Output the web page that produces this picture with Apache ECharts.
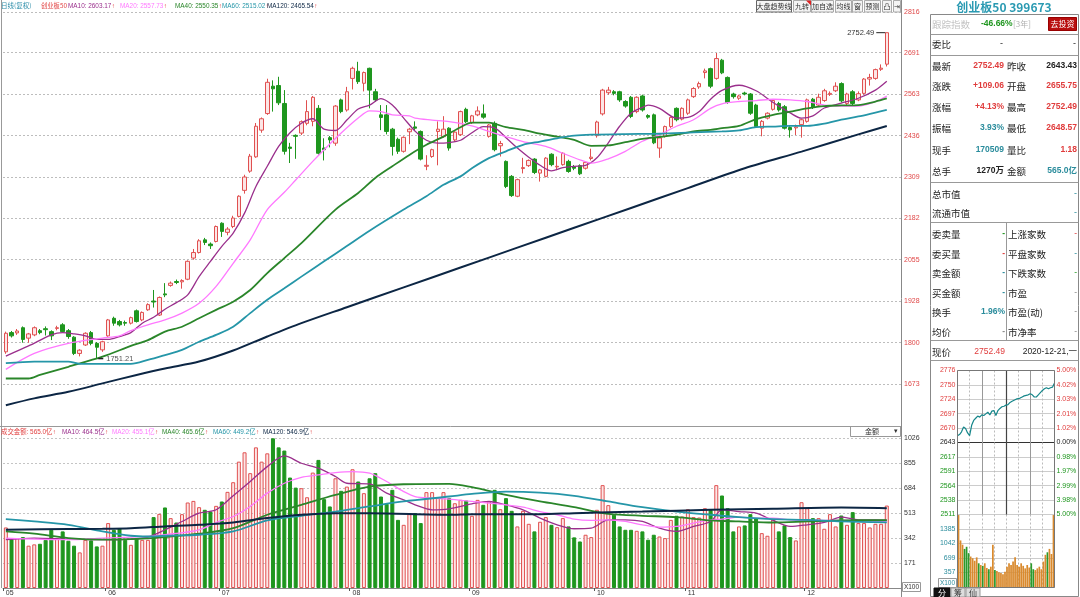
<!DOCTYPE html>
<html><head><meta charset="utf-8">
<script src="https://cdn.jsdelivr.net/npm/echarts@6/dist/echarts.min.js"></script>
<style>html,body{margin:0;padding:0;background:#fff;}#c{width:1080px;height:597px;}</style>
</head><body><div id="c"></div>
<script>
// ---------------- DATA ----------------
const tradingDays = [
  ['05',[6,7,8,11,12,13,14,15,18,19,20,21,22,25,26,27,28,29]],
  ['06',[1,2,3,4,5,8,9,10,11,12,15,16,17,18,19,22,23,24,29,30]],
  ['07',[1,2,3,6,7,8,9,10,13,14,15,16,17,20,21,22,23,24,27,28,29,30,31]],
  ['08',[3,4,5,6,7,10,11,12,13,14,17,18,19,20,21,24,25,26,27,28,31]],
  ['09',[1,2,3,4,7,8,9,10,11,14,15,16,17,18,21,22,23,24,25,28,29,30]],
  ['10',[9,12,13,14,15,16,19,20,21,22,23,26,27,28,29,30]],
  ['11',[2,3,4,5,6,9,10,11,12,13,16,17,18,19,20,23,24,25,26,27,30]],
  ['12',[1,2,3,4,7,8,9,10,11,14,15,16,17,18,21]]
];
const openP = [1772,1831,1830,1846,1814,1824,1837,1843,1834,1844, 1855,1837,1817,1767,1793,1831,1798,1778,1821,1875,
 1865,1862,1860,1898,1870,1901,1928,1885,1950,1976, 1988,1987,1995,2060,2077,2116,2103,2111,2167,2139,
 2157,2188,2268,2327,2371,2453,2504,2588,2590,2535, 2401,2437,2444,2474,2480,2520,2398,2430,2413,2546,
 2515,2612,2634,2597,2643,2571,2500,2500,2456,2425, 2388,2448,2463,2449,2342,2372,2449,2433,2459,2423,
 2439,2517,2476,2500,2503,2434,2474,2405,2357,2311, 2250,2335,2344,2364,2321,2311,2379,2340,2347,2357,
 2340,2344,2336,2366,2436,2503,2568,2571,2571,2541, 2554,2510,2558,2498,2500,2398,2434,2464,2520,2487,
 2505,2556,2586,2630,2642,2612,2668,2615,2564,2551, 2567,2564,2530,2459,2490,2517,2535,2525,2461,2460,
 2470,2480,2548,2530,2544,2563,2574,2596,2535,2571, 2546,2566,2610,2612,2640,2655.75];
const closeP = [1829,1821,1836,1810,1827,1846,1831,1840,1821,1846, 1834,1819,1767,1777,1829,1798,1786,1803,1870,1860,
 1855,1860,1877,1865,1893,1917,1925,1939,1947,1983, 1985,1991,2050,2077,2113,2108,2098,2157,2142,2149,
 2183,2250,2309,2373,2465,2488,2600,2580,2537,2388, 2397,2434,2479,2510,2554,2382,2393,2423,2527,2510,
 2571,2643,2602,2630,2576,2546,2492,2449,2403,2388, 2431,2456,2459,2364,2345,2393,2456,2456,2398,2447,
 2510,2479,2497,2512,2493,2469,2393,2412,2280,2252, 2301,2338,2360,2323,2331,2367,2347,2342,2382,2326,
 2336,2319,2354,2370,2478,2576,2576,2566,2546,2527, 2495,2554,2515,2493,2414,2429,2464,2492,2485,2520,
 2546,2581,2596,2635,2588,2673,2629,2538,2556,2558, 2564,2505,2464,2480,2505,2544,2515,2459,2454,2463,
 2485,2546,2523,2554,2574,2566,2588,2543,2564,2535, 2565,2610,2615,2639,2643.43,2752.49];
const lowP = [1766,1816,1824,1800,1800,1820,1826,1822,1808,1838, 1830,1812,1762,1758,1790,1792,1751.21,1772,1818,1852,
 1850,1852,1856,1862,1866,1898,1908,1882,1940,1972, 1980,1966,1992,2055,2074,2100,2088,2108,2125,2130,
 2152,2185,2258,2322,2368,2445,2500,2510,2530,2378, 2352,2365,2438,2468,2465,2378,2360,2400,2405,2505,
 2510,2578,2595,2572,2520,2540,2453,2440,2375,2380, 2384,2410,2450,2360,2330,2368,2345,2430,2390,2418,
 2435,2475,2472,2496,2488,2430,2388,2372,2275,2248, 2247,2320,2340,2318,2295,2308,2342,2330,2344,2322,
 2330,2315,2332,2360,2430,2498,2562,2560,2540,2522, 2490,2505,2510,2488,2410,2368,2430,2460,2480,2483,
 2500,2552,2580,2612,2582,2608,2625,2534,2550,2546, 2560,2500,2460,2434,2486,2513,2510,2455,2430,2438,
 2430,2476,2518,2526,2540,2558,2570,2538,2530,2530, 2542,2562,2590,2608,2635,2648.57];
const highP = [1834,1836,1842,1850,1830,1850,1842,1850,1838,1852, 1860,1842,1820,1780,1832,1836,1802,1806,1873,1880,
 1870,1868,1880,1902,1896,1921,1962,1942,1983,1988, 1994,1995,2053,2088,2118,2122,2108,2160,2170,2155,
 2190,2253,2316,2380,2475,2492,2611,2606,2617,2576, 2414,2440,2483,2545,2558,2530,2428,2435,2530,2550,
 2586,2648,2663,2633,2645,2580,2530,2530,2460,2430, 2434,2460,2480,2452,2376,2396,2480,2496,2462,2450,
 2513,2522,2500,2526,2532,2472,2480,2420,2360,2315, 2304,2368,2363,2367,2334,2370,2382,2372,2385,2362,
 2346,2348,2357,2396,2482,2580,2586,2576,2574,2545, 2558,2557,2562,2502,2504,2432,2467,2495,2523,2523,
 2550,2585,2602,2642,2645,2690,2672,2618,2568,2562, 2571,2567,2534,2484,2508,2548,2540,2530,2465,2470,
 2488,2550,2552,2565,2580,2572,2600,2600,2568,2576, 2572,2613,2626,2642,2655,2752.49];
// 成交金额 (亿)
const amount = [415,335,342,349,290,299,303,330,399,342, 388,324,290,244,330,326,285,290,445,399,
 410,330,296,342,330,330,486,508,552,479, 449,506,586,597,554,536,524,563,593,659,
 725,866,930,787,964,866,923,1026,964,942, 757,688,684,622,791,878,609,559,752,666,
 695,814,730,650,752,787,627,577,673,467, 433,506,513,445,657,657,620,657,616,581,
 604,600,495,604,570,593,673,540,616,529, 422,529,440,388,454,486,433,417,479,422,
 347,319,365,349,536,705,568,502,422,399, 399,392,388,331,365,353,342,467,495,490,
 540,486,483,547,536,705,634,547,388,422, 429,506,479,376,358,472,388,429,349,326,
 588,547,479,479,406,506,422,497,433,520, 445,445,415,440,440,565];
// moving averages: [candle index, value]
const ma10 = [[0,1759],[4,1790],[8,1824],[10,1831],[12,1827],[14,1821],[16,1810],[18,1810],[20,1819],[22,1831],[24,1860],[26,1878],[28,1903],[30,1923],[32,1947],[34,2003],[36,2050],[38,2096],[40,2137],[42,2198],[44,2280],[46,2342],[48,2403],[50,2445],[52,2474],[54,2488],[56,2456],[58,2452],[60,2484],[62,2518],[64,2530],[66,2550],[68,2530],[70,2490],[72,2450],[74,2422],[76,2413],[78,2415],[80,2422],[82,2445],[84,2464],[86,2460],[88,2430],[90,2398],[92,2370],[94,2345],[96,2328],[98,2338],[100,2342],[102,2345],[104,2368],[106,2414],[108,2465],[110,2505],[112,2523],[113,2530],[115,2520],[118,2490],[120,2492],[122,2510],[124,2548],[126,2575],[129,2591],[132,2574],[135,2538],[138,2506],[140,2490],[142,2497],[144,2521],[147,2536],[150,2551],[153,2576],[155,2603.17]];
const ma20 = [[0,1718],[5,1767],[11,1798],[17,1814],[20,1821],[22,1837],[25,1855],[28,1870],[31,1891],[34,1921],[37,1973],[40,2044],[43,2116],[46,2209],[49,2262],[51,2300],[54,2357],[56,2393],[59,2444],[62,2490],[64,2512],[66,2510],[68,2500],[71,2497],[72,2490],[75,2484],[78,2479],[82,2466],[85,2449],[88,2433],[91,2418],[95,2403],[98,2382],[101,2362],[103,2352],[106,2365],[109,2388],[112,2419],[115,2439],[118,2465],[121,2485],[124,2520],[126,2534],[129,2541],[132,2544],[135,2548],[138,2546],[141,2541],[144,2530],[147,2527],[150,2527],[153,2541],[155,2557.73]];
const ma40 = [[0,1690],[4,1690],[6,1701],[11,1726],[17,1757],[22,1790],[25,1808],[28,1834],[31,1849],[34,1875],[37,1901],[40,1926],[43,1962],[46,2014],[49,2060],[52,2106],[58,2209],[62,2260],[65,2306],[68,2342],[71,2377],[74,2408],[77,2433],[80,2462],[82,2476],[85,2476],[88,2462],[91,2454],[94,2442],[97,2433],[100,2423],[103,2405],[106,2406],[109,2416],[112,2426],[115,2432],[118,2439],[121,2449],[124,2454],[126,2459],[129,2466],[132,2487],[135,2500],[138,2510],[141,2520],[144,2527],[147,2529],[150,2530],[153,2541],[155,2550.35]];
const ma60 = [[0,1737],[5,1742],[11,1742],[13,1735],[17,1735],[22,1735],[25,1747],[28,1762],[31,1778],[34,1803],[37,1824],[40,1849],[43,1891],[46,1932],[49,1967],[52,2003],[56,2050],[60,2097],[64,2144],[70,2209],[74,2250],[77,2285],[80,2311],[82,2336],[85,2367],[88,2388],[91,2408],[94,2418],[97,2428],[100,2436],[103,2439],[109,2441],[115,2442],[121,2446],[126,2449],[129,2452],[132,2462],[135,2464],[138,2466],[141,2466],[144,2473],[147,2485],[150,2495],[153,2507],[155,2515.02]];
const ma120 = [[0,1608],[5,1629],[11,1649],[17,1675],[23,1701],[28,1721],[34,1742],[40,1776],[46,1819],[52,1860],[60,1909],[70,1970],[80,2031],[90,2092],[100,2153],[110,2214],[120,2275],[130,2336],[140,2387],[150,2440],[155,2465.54]];
const vma10 = [[0,331],[5,342],[11,335],[17,331],[22,335],[25,349],[28,399],[31,456],[34,513],[37,536],[40,632],[43,730],[46,832],[49,905],[52,855],[55,821],[58,764],[60,718],[64,714],[67,650],[70,604],[72,570],[75,536],[78,543],[82,577],[85,593],[88,570],[91,536],[94,479],[97,433],[100,406],[103,410],[106,467],[109,467],[112,456],[115,410],[118,388],[121,422],[124,456],[126,536],[129,524],[132,513],[135,463],[138,422],[141,433],[144,449],[147,486],[150,467],[153,467],[155,464.5]];
const vma20 = [[0,342],[11,331],[17,342],[22,349],[25,353],[28,365],[34,399],[37,449],[40,490],[43,559],[46,650],[49,718],[52,759],[55,775],[58,791],[61,798],[64,787],[67,730],[70,661],[72,627],[75,616],[78,609],[82,593],[88,570],[91,554],[94,524],[97,502],[100,472],[103,463],[106,467],[109,456],[112,433],[115,417],[118,422],[121,445],[124,467],[126,472],[129,486],[132,479],[135,479],[138,467],[141,463],[147,463],[155,455.1]];
const vma40 = [[0,388],[5,372],[11,342],[17,331],[22,335],[28,349],[34,372],[40,410],[46,502],[52,570],[58,638],[64,695],[70,711],[78,714],[82,691],[88,638],[94,593],[100,554],[103,529],[106,508],[112,495],[118,486],[124,463],[129,456],[135,449],[141,456],[147,463],[155,465.6]];
const vma60 = [[0,472],[5,456],[11,433],[17,388],[22,358],[25,353],[28,358],[34,365],[40,388],[46,463],[52,495],[58,524],[64,559],[70,593],[78,627],[82,645],[88,661],[94,654],[100,632],[106,593],[112,554],[118,524],[124,502],[129,486],[135,472],[141,467],[147,456],[155,449.2]];
const vma120 = [[0,399],[11,404],[17,406],[22,410],[28,422],[34,433],[40,449],[46,479],[52,502],[58,513],[64,513],[78,502],[82,506],[94,506],[100,513],[112,524],[124,536],[135,543],[147,551],[155,546.9]];
const priceTicks = [2816,2691,2563,2436,2309,2182,2055,1928,1800,1673];
const priceMALegend = [2603.17,2557.73,2550.35,2515.02,2465.54];
const volMALegend = [464.5,455.1,465.6,449.2,546.9];
const lastAmount = 565.0;
// intraday (every 5 minutes)
const intradayTimes = ['09:30','09:35','09:40','09:45','09:50','09:55','10:00','10:05','10:10','10:15','10:20','10:25','10:30','10:35','10:40','10:45','10:50','10:55','11:00','11:05','11:10','11:15','11:20','11:25','11:30','13:05','13:10','13:15','13:20','13:25','13:30','13:35','13:40','13:45','13:50','13:55','14:00','14:05','14:10','14:15','14:20','14:25','14:30','14:35','14:40','14:45','14:50','14:55','15:00'];
const intradayPrice = [2656,2658,2663,2672,2669,2661,2656,2675,2684,2688,2692,2690,2694,2693,2696,2699,2694,2701,2702,2693,2702,2706,2709,2710,2712,2713,2717,2719,2721,2723,2724,2725,2727,2729,2730,2731,2733,2731,2727,2727,2731,2735,2739,2742,2744,2742,2744,2745,2752.49];
const intradayVol = [1700,1100,1000,900,950,800,720,680,620,700,560,520,500,560,450,420,480,1000,400,380,350,330,300,360,480,560,520,600,700,520,480,560,500,440,520,460,560,420,400,440,480,420,600,760,820,900,780,1700];
const prevClose = 2643.43;
const ipLabels = ['2511','2538','2564','2591','2617','2643','2670','2697','2724','2750','2776'];
const ipPct = ['5.00%','3.98%','2.99%','1.97%','0.98%','0.00%','1.02%','2.01%','3.03%','4.02%','5.00%'];
const ivLabels = ['','357','699','1042','1385',''];
const quoteRows = [['最新','2752.49','昨收','2643.43'],['涨跌','+109.06','开盘','2655.75'],['涨幅','+4.13%','最高','2752.49'],['振幅','3.93%','最低','2648.57'],['现手','170509','量比','1.18'],['总手','1270万','金额','565.0亿']];
const marketRows = [['委卖量','-','上涨家数','-'],['委买量','-','平盘家数','-'],['卖金额','-','下跌家数','-'],['买金额','-','市盈','-'],['换手','1.96%','市盈(动)','-'],['均价','-','市净率','-']];
const capRows = [['总市值','-'],['流通市值','-']];

// ---------------- BUILD ----------------
const RED='#e03c3c', GRN='#1e961e', TEAL='#2a8c9c', BLK='#222', GRY='#888';
const FN='"Liberation Sans","Noto Sans CJK SC",sans-serif';
const FC='"Noto Sans CJK SC","Liberation Sans",sans-serif';
const cats=[]; const monthStart=new Set();
tradingDays.forEach(([m,days])=>{days.forEach((d,k)=>{if(k===0)monthStart.add(cats.length);cats.push('2020-'+m+'-'+String(d).padStart(2,'0'));});});
const nData=cats.length; cats.push('pad1','pad2');
const kData=openP.map((o,i)=>[o,closeP[i],lowP[i],highP[i]]);
const upStyle={color:'#fce6e6',borderColor:'#e05050',borderWidth:1};
const dnStyle={color:'#1e961e',borderColor:'#1e961e',borderWidth:1};
const volData=amount.map((v,i)=>({value:v,itemStyle:closeP[i]>=openP[i]?upStyle:dnStyle}));
const ivData=intradayVol.map((v,k)=>({value:v,itemStyle:{color:intradayPrice[k+1]>=intradayPrice[k]?'#d98a2e':'#2c9a2c'}}));
const maColors=['#9a2f8c','#ff78ff','#2a862a','#2596a8','#0c2644'];
const maWidths=[1.3,1.3,1.8,1.8,2];
function maSeries(name,data,idx,ax){return {name,type:'line',xAxisIndex:ax,yAxisIndex:ax,data,smooth:0.3,showSymbol:false,silent:true,lineStyle:{color:maColors[idx],width:maWidths[idx]},z:3};}
const ipMin=prevClose*0.95, ipMax=prevClose*1.05, ipInt=prevClose*0.01;

// graphics
const G=[];
function T(x,y,text,fill,size,o){o=o||{};G.push({type:'text',x,y,silent:true,z:20,style:{text,fill,font:(o.w||'normal')+' '+size+'px '+(o.f||FN),align:o.a||'left',verticalAlign:'middle'}});}
function L(x1,y1,x2,y2,stroke,w,dash){G.push({type:'line',silent:true,z:15,shape:{x1,y1,x2,y2},style:{stroke,lineWidth:w||1,lineDash:dash||null}});}
function R(x,y,w,h,fill,stroke){G.push({type:'rect',silent:true,z:14,shape:{x,y,width:w,height:h},style:{fill,stroke,lineWidth:1}});}
const LF='6.4px '+FN;
const mctx=document.createElement('canvas').getContext('2d');
function tw(s){mctx.font=LF;return mctx.measureText(s).width;}
function legendItem(x,y,text,color){
  G.push({type:'text',x,y,silent:true,z:20,style:{text,fill:color,font:LF,align:'left',verticalAlign:'middle'}});
  G.push({type:'text',x:x+tw(text)+0.3,y,silent:true,z:20,style:{text:'↑',fill:RED,font:LF,align:'left',verticalAlign:'middle'}});
}
// frame lines
L(1.5,0,1.5,588,'#999');
L(901.5,0,901.5,597,'#888');
L(0,426.5,901,426.5,'#999');
// top legend
T(1,6,'日线(复权)','#2a8ca8',6.5,{f:FC});
T(41,6,'创业板50',RED,6.3,{f:FC});
const maNames=['MA10','MA20','MA40','MA60','MA120'];
const legX=[68,120,175,222,267];
maNames.forEach((n,k)=>legendItem(legX[k],6,n+': '+priceMALegend[k].toFixed(2),maColors[k]));
// volume legend
legendItem(1,432,'成交金额: '+lastAmount.toFixed(1)+'亿',RED);
const vlegX=[62,112,162,213,263];
maNames.forEach((n,k)=>legendItem(vlegX[k],432,n+': '+volMALegend[k].toFixed(1)+'亿',maColors[k]));
// toolbar buttons
[['大盘趋势线',756,792],['九转',793,811],['加自选',811,834],['均线',835,852],['窗',852,863],['预测',864,881],['凸',882,892],['⇥',893,901]].forEach((b,k)=>{
  R(b[1]+0.5,0.5,b[2]-b[1]-1,11.5,'#f4f4f4',k===0?'#666':'#aaa');
  T((b[1]+b[2])/2,6.5,b[0],'#333',7,{a:'center',f:FC});
});
G.push({type:'polygon',silent:true,z:21,shape:{points:[[806,0.5],[811,0.5],[811,5.5]]},style:{fill:'#e02020'}});
// 金额 dropdown + X100
R(850.5,426.5,50,10,'#fff','#999'); T(872,431.5,'金额','#333',7,{a:'center',f:FC}); T(896,431.5,'▾','#333',7,{a:'center'});
R(902.5,582.5,18,9,'#fff','#999'); T(911.5,587,'X100','#333',6.5,{a:'center'});
// right panel
T(1004,7,'创业板50 399673','#2a9ab2',12,{w:'bold',f:FC,a:'center'});
R(930.5,14.5,148,582,'rgba(0,0,0,0)','#888');
[34.5,55.5,182.5,222.5,340.5,360.5].forEach(y=>L(930.5,y,1078.5,y,'#999'));
L(1006.5,222.5,1006.5,340.5,'#999');
T(932,24,'跟踪指数','#c4c4c4',9.5,{f:FC});
T(981,24,'-46.66%',GRN,8.5,{w:'bold'});
T(1013,24,'[3年]','#b0b0b0',8,{f:FC});
R(1048.5,17.5,28,13,'#b80e0e','#900');
T(1062.5,24,'去投资','#fff',8,{a:'center',f:FC});
T(932,44,'委比',BLK,9.5,{f:FC}); T(1003,44,'-',BLK,9,{a:'right'}); T(1076,44,'-',BLK,9,{a:'right'});
const qColors=[[RED,BLK],[RED,RED],[RED,RED],[TEAL,RED],[TEAL,RED],[BLK,TEAL]];
const qY=[66,86,107,128,150,171];
quoteRows.forEach((r,k)=>{
  T(932,qY[k],r[0],BLK,9.5,{f:FC}); T(1004,qY[k],r[1],qColors[k][0],8.5,{a:'right',w:'bold',f:FN});
  T(1007,qY[k],r[2],BLK,9.5,{f:FC}); T(1077,qY[k],r[3],qColors[k][1],8.5,{a:'right',w:'bold',f:FN});
});
const cY=[194,213];
capRows.forEach((r,k)=>{T(932,cY[k],r[0],BLK,9.5,{f:FC}); T(1077,cY[k],r[1],TEAL,9,{a:'right'});});
const mColors=[[GRN,RED],[RED,TEAL],[TEAL,GRN],[TEAL,GRY],[TEAL,GRY],[GRY,GRY]];
const mY=[234,254,273,293,312,332];
marketRows.forEach((r,k)=>{
  T(932,mY[k],r[0],BLK,9.5,{f:FC}); T(1005,mY[k],r[1],mColors[k][0],8.5,{a:'right',w:'bold'});
  T(1008,mY[k],r[2],BLK,9.5,{f:FC}); T(1077,mY[k],r[3],mColors[k][1],8.5,{a:'right'});
});
T(932,352,'现价',BLK,9.5,{f:FC}); T(1005,352,closeP[nData-1].toFixed(2),RED,8.5,{a:'right'}); T(1077,352,cats[nData-1]+',一',BLK,8.5,{a:'right',f:FN});
// intraday frame
R(957.5,370.5,97,217,'rgba(0,0,0,0)','#777');
R(938.5,578.5,18,9,'#fff','#999'); T(947.5,583,'X100',TEAL,6.5,{a:'center'});
R(934,588,16,9,'#111','#111'); T(942,592.5,'分','#fff',8,{a:'center',f:FC});
R(951,588,14,9,'#ddd','#999'); T(958,592.5,'筹','#333',8,{a:'center',f:FC});
R(966,588,14,9,'#ddd','#999'); T(973,592.5,'仙','#333',8,{a:'center',f:FC});

const option={
  animation:false, backgroundColor:'#fff',
  grid:[
    {left:3,top:12,width:898,height:411},
    {left:3,top:438.3,width:898,height:150},
    {left:957.5,top:370.5,width:97,height:144},
    {left:957.5,top:514.5,width:97,height:72.5}
  ],
  xAxis:[
    {type:'category',gridIndex:0,data:cats,boundaryGap:true,axisLine:{show:false},axisTick:{show:false},axisLabel:{show:false},splitLine:{show:false}},
    {type:'category',gridIndex:1,data:cats,boundaryGap:true,axisLine:{lineStyle:{color:'#888'}},
      axisTick:{show:true,interval:(i)=>monthStart.has(i),length:3,lineStyle:{color:'#555'}},
      axisLabel:{interval:(i)=>monthStart.has(i),formatter:(v)=>v.slice(5,7),align:'left',fontSize:7,color:'#333',margin:2,fontFamily:'Liberation Sans'},splitLine:{show:false}},
    {type:'category',gridIndex:2,data:intradayTimes,boundaryGap:false,axisLine:{show:false},axisTick:{show:false},axisLabel:{show:false},
      splitLine:{show:true,interval:(i)=>i%6===0&&i>0&&i<48,lineStyle:{color:'#bbb',type:[2,2]}}},
    {type:'category',gridIndex:3,data:intradayTimes.slice(1),boundaryGap:true,axisLine:{show:false},axisTick:{show:false},axisLabel:{show:false},
      splitLine:{show:true,interval:(i)=>i%6===0&&i>0,lineStyle:{color:'#bbb',type:[2,2]}}}
  ],
  yAxis:[
    {type:'value',gridIndex:0,position:'right',min:1553.3,max:2816,axisLine:{show:false},axisTick:{show:false},axisLabel:{show:false},splitLine:{show:false}},
    {type:'value',gridIndex:1,position:'right',min:0,max:1026,interval:171,axisLine:{show:false},axisTick:{show:false},
      axisLabel:{fontSize:7,color:'#333',margin:3,fontFamily:'Liberation Sans',formatter:(v)=>v===0?'':String(v)},
      splitLine:{show:true,lineStyle:{color:'#c4c4c4',type:[2,2]}}},
    {type:'value',gridIndex:2,position:'left',min:ipMin,max:ipMax,interval:ipInt,axisLine:{show:false},axisTick:{show:false},
      axisLabel:{fontSize:7,margin:2,fontFamily:'Liberation Sans',formatter:(v)=>ipLabels[Math.round((v-ipMin)/ipInt)]||'',
        color:(v)=>{const k=Math.round((v-ipMin)/ipInt);return k>5?RED:(k<5?GRN:BLK);}},
      splitLine:{show:true,lineStyle:{color:['#aaa','#ccc','#ccc','#ccc','#ccc','#333','#ccc','#ccc','#ccc','#ccc','#aaa'],width:1}}},
    {type:'value',gridIndex:2,position:'right',min:ipMin,max:ipMax,interval:ipInt,axisLine:{show:false},axisTick:{show:false},
      axisLabel:{fontSize:7,margin:2,fontFamily:'Liberation Sans',formatter:(v)=>ipPct[Math.round((v-ipMin)/ipInt)]||'',
        color:(v)=>{const k=Math.round((v-ipMin)/ipInt);return k>5?RED:(k<5?GRN:BLK);}},splitLine:{show:false}},
    {type:'value',gridIndex:3,position:'left',min:0,max:1712.5,interval:342.5,axisLine:{show:false},axisTick:{show:false},
      axisLabel:{fontSize:7,margin:2,color:TEAL,fontFamily:'Liberation Sans',formatter:(v)=>ivLabels[Math.round(v/342.5)]||''},
      splitLine:{show:true,lineStyle:{color:'#ccc'}}}
  ],
  series:[
    {type:'line',xAxisIndex:0,yAxisIndex:0,data:closeP,showSymbol:false,silent:true,lineStyle:{opacity:0},z:0,
      markLine:{silent:true,symbol:['none','none'],z:1,animation:false,lineStyle:{color:'#bdbdbd',type:[2,2],width:1},
        label:{show:true,position:'end',distance:3,formatter:(p)=>String(p.value),color:'#e04848',fontSize:7,fontFamily:'Liberation Sans'},
        data:priceTicks.map(v=>({yAxis:v}))}},
    {type:'candlestick',xAxisIndex:0,yAxisIndex:0,data:kData,barWidth:4,silent:true,z:2,
      itemStyle:{color:'#fce6e6',color0:'#1e961e',borderColor:'#e05050',borderColor0:'#1e961e',borderWidth:1},
      markPoint:{silent:true,animation:false,data:[
        {coord:[155,highP[155]],value:highP[155],symbol:'rect',symbolSize:[9,1],symbolOffset:[-6,0],itemStyle:{color:'#222'},
          label:{show:true,position:'left',distance:2,formatter:(p)=>p.value.toFixed(2),color:'#333',fontSize:7.5,fontFamily:'Liberation Sans'}},
        {coord:[16,lowP[16]],value:lowP[16],symbol:'rect',symbolSize:[5,1.5],symbolOffset:[4,0],itemStyle:{color:'#222'},
          label:{show:true,position:'right',distance:3,formatter:(p)=>p.value.toFixed(2),color:'#555',fontSize:7.5,fontFamily:'Liberation Sans'}}
      ]}},
    maSeries('MA10',ma10,0,0),maSeries('MA20',ma20,1,0),maSeries('MA40',ma40,2,0),maSeries('MA60',ma60,3,0),maSeries('MA120',ma120,4,0),
    {type:'bar',xAxisIndex:1,yAxisIndex:1,data:volData,barWidth:4,silent:true,z:2},
    maSeries('VMA10',vma10,0,1),maSeries('VMA20',vma20,1,1),maSeries('VMA40',vma40,2,1),maSeries('VMA60',vma60,3,1),maSeries('VMA120',vma120,4,1),
    {type:'line',xAxisIndex:2,yAxisIndex:2,data:intradayPrice,showSymbol:false,silent:true,lineStyle:{color:'#16868a',width:1.2},z:4,
      markLine:{silent:true,symbol:['none','none'],z:1,label:{show:false},animation:false,
        data:[{xAxis:12,lineStyle:{color:'#999',type:'solid',width:1}},{xAxis:36,lineStyle:{color:'#999',type:'solid',width:1}},{xAxis:24,lineStyle:{color:'#444',type:'solid',width:1.2}}]}},
    {type:'bar',xAxisIndex:3,yAxisIndex:4,data:ivData,barWidth:'85%',silent:true}
  ],
  graphic:G
};
const chart=echarts.init(document.getElementById('c'));
chart.setOption(option);
</script>
</body></html>
